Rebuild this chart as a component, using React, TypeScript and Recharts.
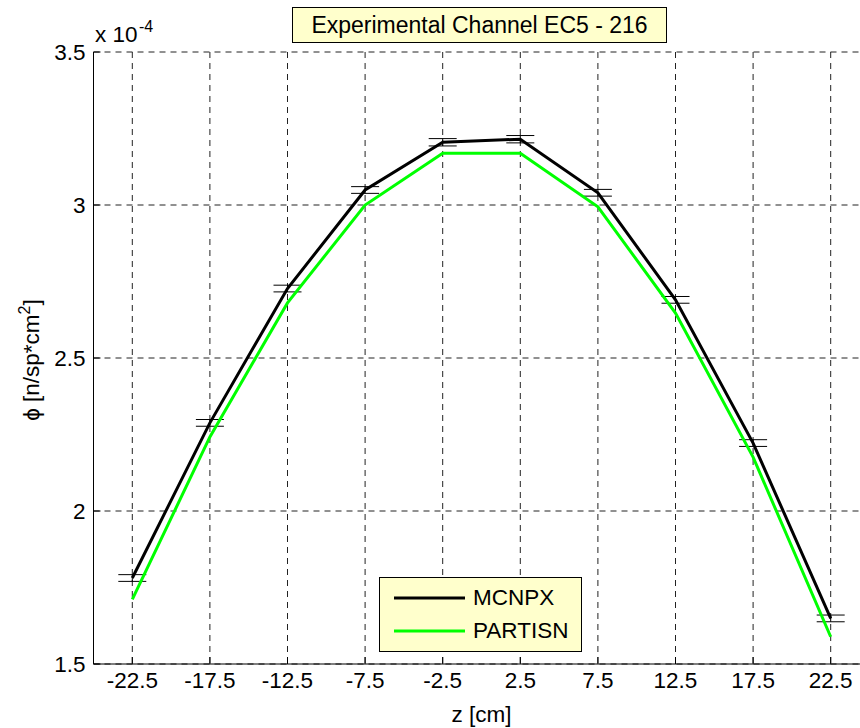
import React from 'react';
import { LineChart, Line, XAxis, YAxis, CartesianGrid, ErrorBar, Legend } from 'recharts';

const zPositions = [-22.5, -17.5, -12.5, -7.5, -2.5, 2.5, 7.5, 12.5, 17.5, 22.5];
const mcnpx = [1.781, 2.288, 2.727, 3.049, 3.205, 3.215, 3.040, 2.690, 2.222, 1.649];
const mcnpxErr = [0.011, 0.011, 0.011, 0.011, 0.012, 0.012, 0.011, 0.011, 0.011, 0.011];
const partisn = [1.711, 2.242, 2.680, 3.000, 3.169, 3.169, 2.994, 2.647, 2.176, 1.589];
const xTicks = [-22.5, -17.5, -12.5, -7.5, -2.5, 2.5, 7.5, 12.5, 17.5, 22.5];
const yTicks = [1.5, 2, 2.5, 3, 3.5];
const seriesNames = ['MCNPX', 'PARTISN'];

const data = zPositions.map((z, i) => ({
  z,
  mcnpx: mcnpx[i],
  err: mcnpxErr[i],
  partisn: partisn[i],
}));

const FONT = '"Liberation Sans", Arial, Helvetica, sans-serif';
const FS = 22.5;
const TICK_LEN = 7;

const BottomTick = (props: any) => {
  const { x, y, payload } = props;
  return (
    <g>
      <line x1={x} x2={x} y1={y} y2={y - TICK_LEN} stroke="#000" strokeWidth={1} />
      <text x={x} y={y + 24} textAnchor="middle" fontSize={FS} fontFamily={FONT} fill="#000">
        {payload.value}
      </text>
    </g>
  );
};

const TopTick = (props: any) => {
  const { x, y } = props;
  return <line x1={x} x2={x} y1={y} y2={y + TICK_LEN} stroke="#000" strokeWidth={1} />;
};

const LeftTick = (props: any) => {
  const { x, y, payload } = props;
  return (
    <g>
      <line x1={x} x2={x + TICK_LEN} y1={y} y2={y} stroke="#000" strokeWidth={1} />
      <text x={x - 8} y={y + 8} textAnchor="end" fontSize={FS} fontFamily={FONT} fill="#000">
        {payload.value}
      </text>
    </g>
  );
};

const LegendBox = () => (
  <svg width={203} height={75} style={{ display: 'block' }}>
    <rect x={0.5} y={0.5} width={202} height={74} fill="#ffffcc" stroke="#000" strokeWidth={1} />
    <line x1={15} x2={86} y1={21} y2={21} stroke="#000" strokeWidth={3} />
    <text x={94} y={28} fontSize={FS} fontFamily={FONT} fill="#000">{seriesNames[0]}</text>
    <line x1={15} x2={86} y1={54} y2={54} stroke="#00ff00" strokeWidth={3} />
    <text x={94} y={61} fontSize={FS} fontFamily={FONT} fill="#000">{seriesNames[1]}</text>
  </svg>
);

export default function App() {
  return (
    <div
      style={{
        position: 'absolute',
        left: 0,
        top: 0,
        width: 860,
        height: 728,
        overflow: 'hidden',
        background: '#fff',
        fontFamily: FONT,
      }}
    >
      <LineChart
        width={880}
        height={728}
        data={data}
        margin={{ top: 52, right: 10.5, bottom: 0, left: 33.5 }}
      >
        <CartesianGrid stroke="#222" strokeDasharray="6 5" strokeWidth={1} />
        <XAxis
          dataKey="z"
          type="number"
          domain={[-25, 25]}
          ticks={xTicks}
          interval={0}
          height={64}
          tickSize={0}
          tickMargin={0}
          tickLine={false}
          axisLine={{ stroke: '#000', strokeWidth: 1 }}
          tick={<BottomTick />}
          label={{ value: 'z [cm]', position: 'insideBottom', offset: 6, fontSize: FS, fontFamily: FONT, fill: '#000' }}
        />
        <XAxis
          xAxisId="top"
          orientation="top"
          dataKey="z"
          type="number"
          domain={[-25, 25]}
          ticks={xTicks}
          interval={0}
          height={0}
          tickSize={0}
          tickMargin={0}
          tickLine={false}
          axisLine={{ stroke: '#000', strokeWidth: 1 }}
          tick={<TopTick />}
        />
        <YAxis
          type="number"
          domain={[1.5, 3.5]}
          ticks={yTicks}
          interval={0}
          width={60}
          tickSize={0}
          tickMargin={0}
          tickLine={false}
          axisLine={{ stroke: '#000', strokeWidth: 1 }}
          tick={<LeftTick />}
        />
        <Legend
          verticalAlign="middle"
          align="center"
          content={<LegendBox />}
          wrapperStyle={{ position: 'absolute', left: 379, top: 577, width: 203, height: 75 }}
        />
        <Line
          type="linear"
          dataKey="mcnpx"
          name={seriesNames[0]}
          stroke="#000"
          strokeWidth={3}
          dot={false}
          isAnimationActive={false}
        >
          <ErrorBar dataKey="err" width={14} stroke="#000" strokeWidth={1} direction="y" isAnimationActive={false} />
        </Line>
        <Line
          type="linear"
          dataKey="partisn"
          name={seriesNames[1]}
          stroke="#00ff00"
          strokeWidth={3}
          dot={false}
          isAnimationActive={false}
        />
      </LineChart>
      <svg
        width={860}
        height={728}
        style={{ position: 'absolute', left: 0, top: 0, pointerEvents: 'none' }}
      >
        <rect x={292.5} y={7.5} width={374} height={35} fill="#ffffcc" stroke="#000" strokeWidth={1} />
        <text x={479.5} y={32.5} textAnchor="middle" fontSize={23} fontFamily={FONT} fill="#000">
          Experimental Channel EC5 - 216
        </text>
        <text x={95} y={42} fontSize={FS} fontFamily={FONT} fill="#000">
          x 10
        </text>
        <text x={139} y={32} fontSize={16} fontFamily={FONT} fill="#000">
          -4
        </text>
        <text
          x={39}
          y={360}
          transform="rotate(-90 39 360)"
          textAnchor="middle"
          fontSize={FS}
          fontFamily={FONT}
          fill="#000"
        >
          ϕ [n/sp*cm
          <tspan fontSize={16} dy={-9}>2</tspan>
          <tspan dy={9}>]</tspan>
        </text>
      </svg>
    </div>
  );
}
